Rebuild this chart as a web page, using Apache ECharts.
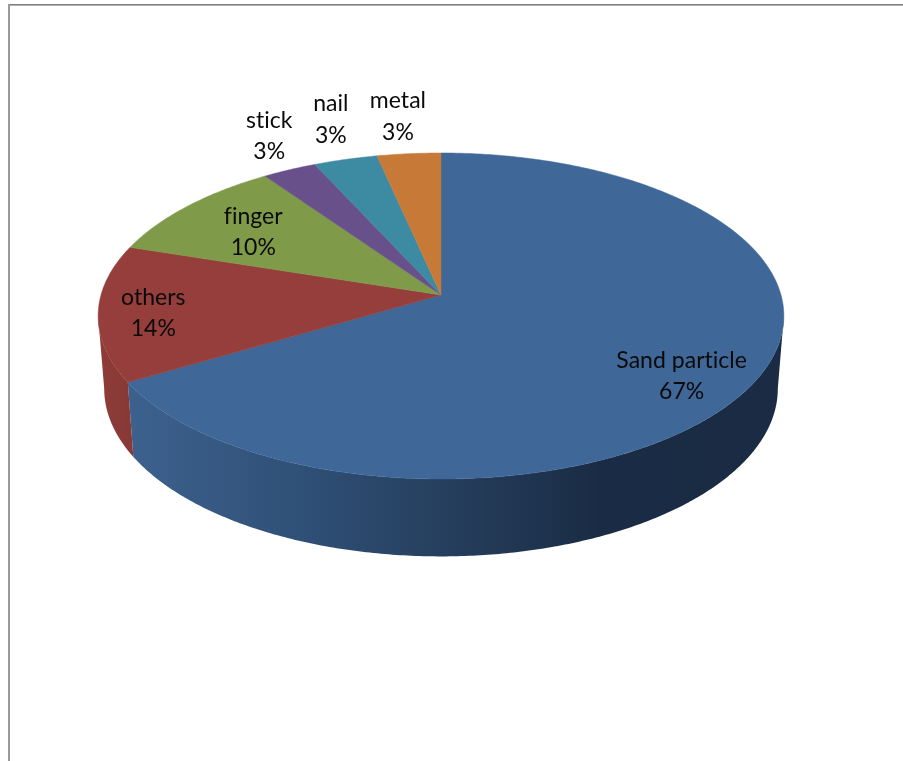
<!DOCTYPE html>
<html><head><meta charset="utf-8">
<style>html,body{margin:0;padding:0;background:#fff}#c{width:903px;height:761px}</style>
<script src="https://cdn.jsdelivr.net/npm/echarts@6/dist/echarts.min.js"></script>
</head><body><div id="c"></div>
<script>
var categories = ['Sand particle','others','finger','stick','nail','metal'];
var shares = [66.5,13.5,10.3,2.9,3.4,3.4];
var topColors = ['#3f6797','#953e3b','#7f9a48','#68508a','#3c8ba3','#c77a37'];
var wallColors = [
  {type:'linear',x:130,y:0,x2:780,y2:0,global:true,colorStops:[
    {offset:0,color:'#3d618e'},{offset:0.26,color:'#2f5077'},{offset:0.48,color:'#263f5e'},
    {offset:0.72,color:'#1a2c45'},{offset:1,color:'#1a2b43'}]},
  {type:'linear',x:100,y:0,x2:133,y2:0,global:true,colorStops:[
    {offset:0,color:'#8f3b38'},{offset:1,color:'#873936'}]},
  '#66793a','#53406e','#306f82','#9f622c'
];
// label placement: radial fraction of the pie, plus a fine nudge in pixels
var labelRadius = [0.75,0.85,0.75,1.25,1.25,1.25];
var labelNudge = [[8,18.5],[3,3],[6,5],[13,-6],[6,-10.5],[-4,-6.5]];

// a tiny letter spacing turns off the ligatures, which the reference font has not
var fillTextBase = CanvasRenderingContext2D.prototype.fillText;
CanvasRenderingContext2D.prototype.fillText = function(){
  this.letterSpacing = '0.02px';
  return fillTextBase.apply(this, arguments);
};

// perspective projection of the tilted pie
var view = {cx:441,cy:295,sx:340,sy:160.3,k:0.1288,wallCy:367,wallSx:334,wallSy:165};
function project(theta,r,wall){
  var u=r*Math.sin(theta), v=-r*Math.cos(theta), d=1-view.k*v;
  return wall ? [view.cx+view.wallSx*u/d, view.wallCy+view.wallSy*v/d]
              : [view.cx+view.sx*u/d, view.cy+view.sy*v/d];
}
function arc(a,b,wall){
  var pts=[],n=Math.max(2,Math.ceil((b-a)/0.01));
  for(var i=0;i<=n;i++)pts.push(project(a+(b-a)*i/n,1,wall));
  return pts;
}
var cum=0;
var rows=shares.map(function(s,i){var r=[cum,cum+s,i];cum+=s;return r;});

function renderItem(params,api){
  var a=api.value(0)/100*2*Math.PI, b=api.value(1)/100*2*Math.PI, i=api.value(2);
  var kids=[];
  var f0=Math.acos(-view.k), f1=2*Math.PI-f0;
  var wa=Math.max(a,f0), wb=Math.min(b,f1);
  if(wb>wa){
    var wallPts=arc(wa,wb,false).concat(arc(wa,wb,true).reverse());
    kids.push({type:'polygon',shape:{points:wallPts},style:{fill:wallColors[i]}});
  }
  var pts=[[view.cx,view.cy]].concat(arc(a,b,false));
  kids.push({type:'polygon',shape:{points:pts},style:{fill:topColors[i],stroke:topColors[i],lineWidth:0.5}});
  var m=project((a+b)/2,labelRadius[i],false);
  kids.push({type:'text',z2:10,style:{
    x:m[0]+labelNudge[i][0],y:m[1]+labelNudge[i][1],
    text:categories[i]+'\n'+Math.round(shares[i])+'%',
    fill:'#0a0a0a',font:'23px Lato',align:'center',verticalAlign:'middle',lineHeight:31.5}});
  return {type:'group',children:kids};
}
var chart=echarts.init(document.getElementById('c'),null,{renderer:'canvas'});
chart.setOption({
  animation:false,
  backgroundColor:'#fff',
  graphic:[
    {type:'rect',shape:{x:8,y:4,width:895,height:1},style:{fill:'#7f7f7f'},silent:true},
    {type:'rect',shape:{x:8,y:5,width:895,height:1},style:{fill:'#b0b0b0'},silent:true},
    {type:'rect',shape:{x:8,y:4,width:2,height:757},style:{fill:'#9a9a9a'},silent:true}
  ],
  series:[{type:'custom',coordinateSystem:'none',silent:true,clip:false,renderItem:renderItem,data:rows}]
});
</script></body></html>
